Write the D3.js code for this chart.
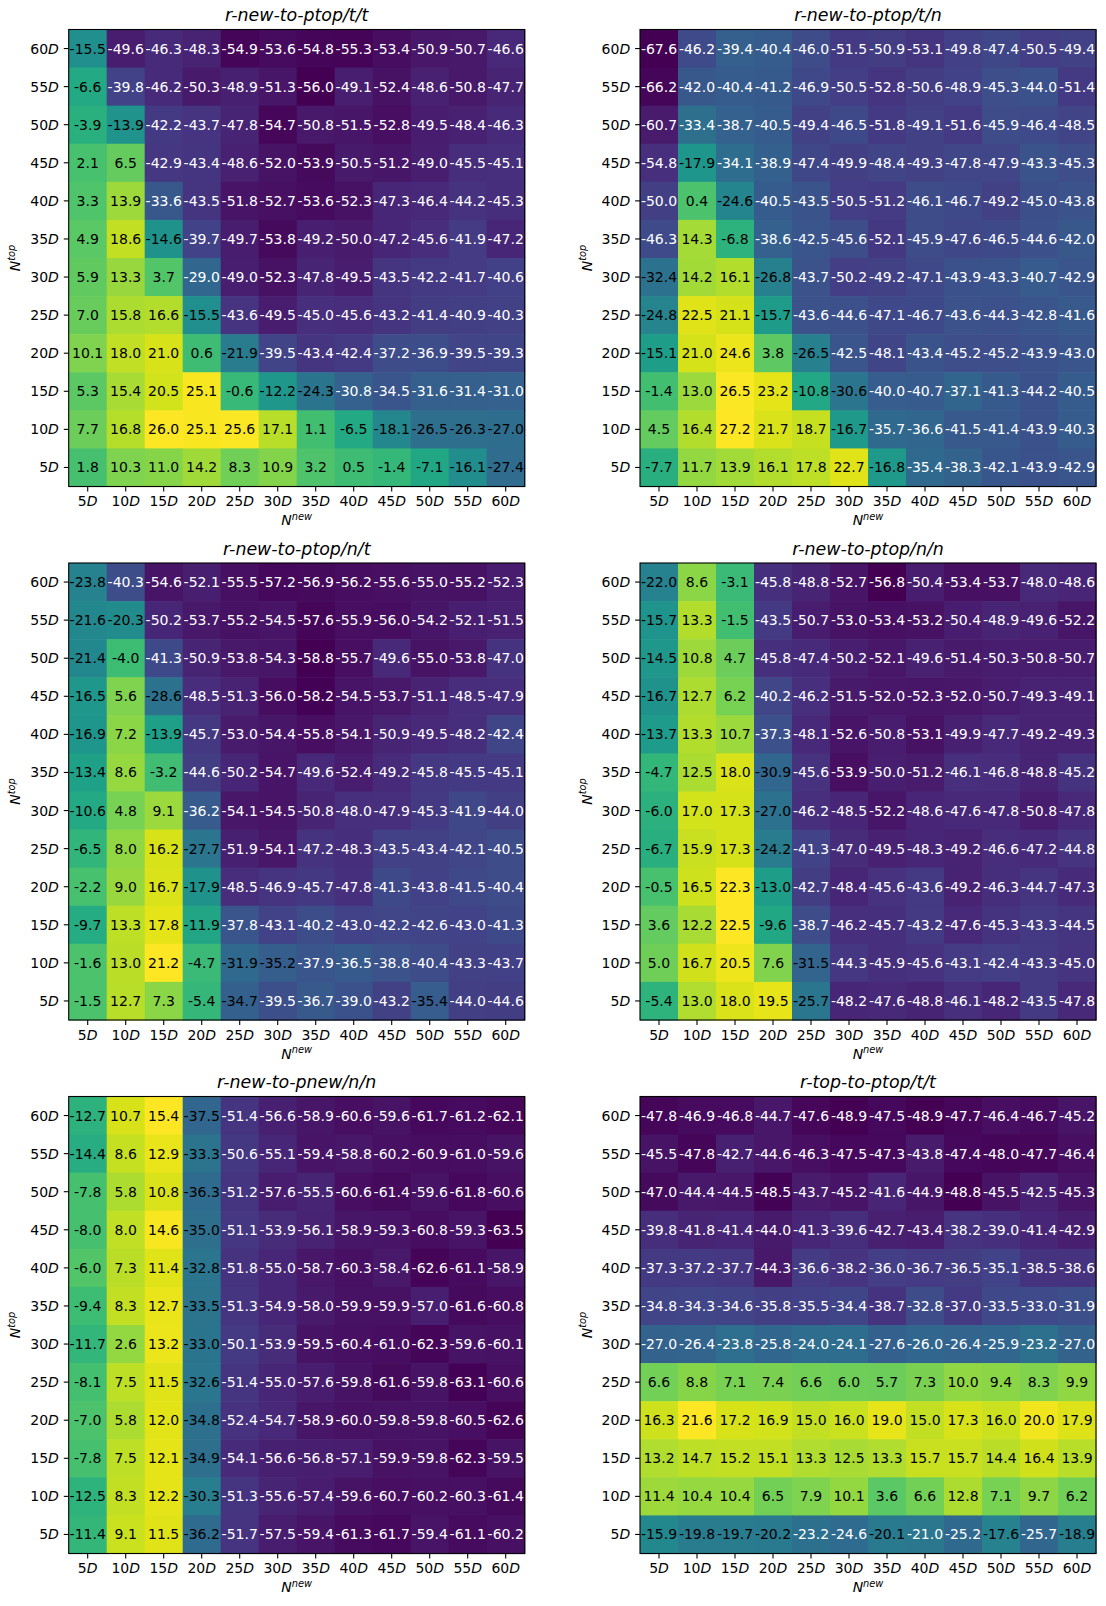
<!DOCTYPE html>
<html>
<head>
<meta charset="utf-8">
<script src="https://cdn.jsdelivr.net/npm/d3@7"></script>
<style>
  html, body { margin: 0; padding: 0; background: #fff; }
  svg { display: block; }
  text { font-family: "DejaVu Sans", sans-serif; }
</style>
</head>
<body>
<svg id="chart" width="1106" height="1606"></svg>
<script>
// ---------- data ----------
const xLabels = ["5D","10D","15D","20D","25D","30D","35D","40D","45D","50D","55D","60D"];
const yLabels = ["60D","55D","50D","45D","40D","35D","30D","25D","20D","15D","10D","5D"]; // top to bottom

const titles = ["r-new-to-ptop/t/t","r-new-to-ptop/t/n","r-new-to-ptop/n/t","r-new-to-ptop/n/n","r-new-to-pnew/n/n","r-top-to-ptop/t/t"];
const xAxisLabel = ["N","new"];
const yAxisLabel = ["N","top"];

const newToPtopTT = [
  [-15.5,-49.6,-46.3,-48.3,-54.9,-53.6,-54.8,-55.3,-53.4,-50.9,-50.7,-46.6],
  [-6.6,-39.8,-46.2,-50.3,-48.9,-51.3,-56.0,-49.1,-52.4,-48.6,-50.8,-47.7],
  [-3.9,-13.9,-42.2,-43.7,-47.8,-54.7,-50.8,-51.5,-52.8,-49.5,-48.4,-46.3],
  [2.1,6.5,-42.9,-43.4,-48.6,-52.0,-53.9,-50.5,-51.2,-49.0,-45.5,-45.1],
  [3.3,13.9,-33.6,-43.5,-51.8,-52.7,-53.6,-52.3,-47.3,-46.4,-44.2,-45.3],
  [4.9,18.6,-14.6,-39.7,-49.7,-53.8,-49.2,-50.0,-47.2,-45.6,-41.9,-47.2],
  [5.9,13.3,3.7,-29.0,-49.0,-52.3,-47.8,-49.5,-43.5,-42.2,-41.7,-40.6],
  [7.0,15.8,16.6,-15.5,-43.6,-49.5,-45.0,-45.6,-43.2,-41.4,-40.9,-40.3],
  [10.1,18.0,21.0,0.6,-21.9,-39.5,-43.4,-42.4,-37.2,-36.9,-39.5,-39.3],
  [5.3,15.4,20.5,25.1,-0.6,-12.2,-24.3,-30.8,-34.5,-31.6,-31.4,-31.0],
  [7.7,16.8,26.0,25.1,25.6,17.1,1.1,-6.5,-18.1,-26.5,-26.3,-27.0],
  [1.8,10.3,11.0,14.2,8.3,10.9,3.2,0.5,-1.4,-7.1,-16.1,-27.4]
];
const newToPtopTN = [
  [-67.6,-46.2,-39.4,-40.4,-46.0,-51.5,-50.9,-53.1,-49.8,-47.4,-50.5,-49.4],
  [-66.2,-42.0,-40.4,-41.2,-46.9,-50.5,-52.8,-50.6,-48.9,-45.3,-44.0,-51.4],
  [-60.7,-33.4,-38.7,-40.5,-49.4,-46.5,-51.8,-49.1,-51.6,-45.9,-46.4,-48.5],
  [-54.8,-17.9,-34.1,-38.9,-47.4,-49.9,-48.4,-49.3,-47.8,-47.9,-43.3,-45.3],
  [-50.0,0.4,-24.6,-40.5,-43.5,-50.5,-51.2,-46.1,-46.7,-49.2,-45.0,-43.8],
  [-46.3,14.3,-6.8,-38.6,-42.5,-45.6,-52.1,-45.9,-47.6,-46.5,-44.6,-42.0],
  [-32.4,14.2,16.1,-26.8,-43.7,-50.2,-49.2,-47.1,-43.9,-43.3,-40.7,-42.9],
  [-24.8,22.5,21.1,-15.7,-43.6,-44.6,-47.1,-46.7,-43.6,-44.3,-42.8,-41.6],
  [-15.1,21.0,24.6,3.8,-26.5,-42.5,-48.1,-43.4,-45.2,-45.2,-43.9,-43.0],
  [-1.4,13.0,26.5,23.2,-10.8,-30.6,-40.0,-40.7,-37.1,-41.3,-44.2,-40.5],
  [4.5,16.4,27.2,21.7,18.7,-16.7,-35.7,-36.6,-41.5,-41.4,-43.9,-40.3],
  [-7.7,11.7,13.9,16.1,17.8,22.7,-16.8,-35.4,-38.3,-42.1,-43.9,-42.9]
];
const newToPtopNT = [
  [-23.8,-40.3,-54.6,-52.1,-55.5,-57.2,-56.9,-56.2,-55.6,-55.0,-55.2,-52.3],
  [-21.6,-20.3,-50.2,-53.7,-55.2,-54.5,-57.6,-55.9,-56.0,-54.2,-52.1,-51.5],
  [-21.4,-4.0,-41.3,-50.9,-53.8,-54.3,-58.8,-55.7,-49.6,-55.0,-53.8,-47.0],
  [-16.5,5.6,-28.6,-48.5,-51.3,-56.0,-58.2,-54.5,-53.7,-51.1,-48.5,-47.9],
  [-16.9,7.2,-13.9,-45.7,-53.0,-54.4,-55.8,-54.1,-50.9,-49.5,-48.2,-42.4],
  [-13.4,8.6,-3.2,-44.6,-50.2,-54.7,-49.6,-52.4,-49.2,-45.8,-45.5,-45.1],
  [-10.6,4.8,9.1,-36.2,-54.1,-54.5,-50.8,-48.0,-47.9,-45.3,-41.9,-44.0],
  [-6.5,8.0,16.2,-27.7,-51.9,-54.1,-47.2,-48.3,-43.5,-43.4,-42.1,-40.5],
  [-2.2,9.0,16.7,-17.9,-48.5,-46.9,-45.7,-47.8,-41.3,-43.8,-41.5,-40.4],
  [-9.7,13.3,17.8,-11.9,-37.8,-43.1,-40.2,-43.0,-42.2,-42.6,-43.0,-41.3],
  [-1.6,13.0,21.2,-4.7,-31.9,-35.2,-37.9,-36.5,-38.8,-40.4,-43.3,-43.7],
  [-1.5,12.7,7.3,-5.4,-34.7,-39.5,-36.7,-39.0,-43.2,-35.4,-44.0,-44.6]
];
const newToPtopNN = [
  [-22.0,8.6,-3.1,-45.8,-48.8,-52.7,-56.8,-50.4,-53.4,-53.7,-48.0,-48.6],
  [-15.7,13.3,-1.5,-43.5,-50.7,-53.0,-53.4,-53.2,-50.4,-48.9,-49.6,-52.2],
  [-14.5,10.8,4.7,-45.8,-47.4,-50.2,-52.1,-49.6,-51.4,-50.3,-50.8,-50.7],
  [-16.7,12.7,6.2,-40.2,-46.2,-51.5,-52.0,-52.3,-52.0,-50.7,-49.3,-49.1],
  [-13.7,13.3,10.7,-37.3,-48.1,-52.6,-50.8,-53.1,-49.9,-47.7,-49.2,-49.3],
  [-4.7,12.5,18.0,-30.9,-45.6,-53.9,-50.0,-51.2,-46.1,-46.8,-48.8,-45.2],
  [-6.0,17.0,17.3,-27.0,-46.2,-48.5,-52.2,-48.6,-47.6,-47.8,-50.8,-47.8],
  [-6.7,15.9,17.3,-24.2,-41.3,-47.0,-49.5,-48.3,-49.2,-46.6,-47.2,-44.8],
  [-0.5,16.5,22.3,-13.0,-42.7,-48.4,-45.6,-43.6,-49.2,-46.3,-44.7,-47.3],
  [3.6,12.2,22.5,-9.6,-38.7,-46.2,-45.7,-43.2,-47.6,-45.3,-43.3,-44.5],
  [5.0,16.7,20.5,7.6,-31.5,-44.3,-45.9,-45.6,-43.1,-42.4,-43.3,-45.0],
  [-5.4,13.0,18.0,19.5,-25.7,-48.2,-47.6,-48.8,-46.1,-48.2,-43.5,-47.8]
];
const newToPnewNN = [
  [-12.7,10.7,15.4,-37.5,-51.4,-56.6,-58.9,-60.6,-59.6,-61.7,-61.2,-62.1],
  [-14.4,8.6,12.9,-33.3,-50.6,-55.1,-59.4,-58.8,-60.2,-60.9,-61.0,-59.6],
  [-7.8,5.8,10.8,-36.3,-51.2,-57.6,-55.5,-60.6,-61.4,-59.6,-61.8,-60.6],
  [-8.0,8.0,14.6,-35.0,-51.1,-53.9,-56.1,-58.9,-59.3,-60.8,-59.3,-63.5],
  [-6.0,7.3,11.4,-32.8,-51.8,-55.0,-58.7,-60.3,-58.4,-62.6,-61.1,-58.9],
  [-9.4,8.3,12.7,-33.5,-51.3,-54.9,-58.0,-59.9,-59.9,-57.0,-61.6,-60.8],
  [-11.7,2.6,13.2,-33.0,-50.1,-53.9,-59.5,-60.4,-61.0,-62.3,-59.6,-60.1],
  [-8.1,7.5,11.5,-32.6,-51.4,-55.0,-57.6,-59.8,-61.6,-59.8,-63.1,-60.6],
  [-7.0,5.8,12.0,-34.8,-52.4,-54.7,-58.9,-60.0,-59.8,-59.8,-60.5,-62.6],
  [-7.8,7.5,12.1,-34.9,-54.1,-56.6,-56.8,-57.1,-59.9,-59.8,-62.3,-59.5],
  [-12.5,8.3,12.2,-30.3,-51.3,-55.6,-57.4,-59.6,-60.7,-60.2,-60.3,-61.4],
  [-11.4,9.1,11.5,-36.2,-51.7,-57.5,-59.4,-61.3,-61.7,-59.4,-61.1,-60.2]
];
const topToPtopTT = [
  [-47.8,-46.9,-46.8,-44.7,-47.6,-48.9,-47.5,-48.9,-47.7,-46.4,-46.7,-45.2],
  [-45.5,-47.8,-42.7,-44.6,-46.3,-47.5,-47.3,-43.8,-47.4,-48.0,-47.7,-46.4],
  [-47.0,-44.4,-44.5,-48.5,-43.7,-45.2,-41.6,-44.9,-48.8,-45.5,-42.5,-45.3],
  [-39.8,-41.8,-41.4,-44.0,-41.3,-39.6,-42.7,-43.4,-38.2,-39.0,-41.4,-42.9],
  [-37.3,-37.2,-37.7,-44.3,-36.6,-38.2,-36.0,-36.7,-36.5,-35.1,-38.5,-38.6],
  [-34.8,-34.3,-34.6,-35.8,-35.5,-34.4,-38.7,-32.8,-37.0,-33.5,-33.0,-31.9],
  [-27.0,-26.4,-23.8,-25.8,-24.0,-24.1,-27.6,-26.0,-26.4,-25.9,-23.2,-27.0],
  [6.6,8.8,7.1,7.4,6.6,6.0,5.7,7.3,10.0,9.4,8.3,9.9],
  [16.3,21.6,17.2,16.9,15.0,16.0,19.0,15.0,17.3,16.0,20.0,17.9],
  [13.2,14.7,15.2,15.1,13.3,12.5,13.3,15.7,15.7,14.4,16.4,13.9],
  [11.4,10.4,10.4,6.5,7.9,10.1,3.6,6.6,12.8,7.1,9.7,6.2],
  [-15.9,-19.8,-19.7,-20.2,-23.2,-24.6,-20.1,-21.0,-25.2,-17.6,-25.7,-18.9]
];

const panels = [
  { title: titles[0], values: newToPtopTT },
  { title: titles[1], values: newToPtopTN },
  { title: titles[2], values: newToPtopNT },
  { title: titles[3], values: newToPtopNN },
  { title: titles[4], values: newToPnewNN },
  { title: titles[5], values: topToPtopTT }
];

// ---------- layout ----------
const colX = [68.7, 640];
const rowY = [29.5, 563, 1096.5];
const W = 456, H = 457;
const FS = 14;

const svg = d3.select("#chart");
svg.append("rect").attr("width", 1106).attr("height", 1606).attr("fill", "#fff");

function italicDTick(sel) {
  sel.each(function(d) {
    const t = d3.select(this);
    t.text(null);
    t.append("tspan").text(d.replace("D", ""));
    t.append("tspan").attr("font-style", "italic").text("D");
  });
}

panels.forEach((p, i) => {
  const x0 = colX[i % 2], y0 = rowY[Math.floor(i / 2)];
  const g = svg.append("g");
  const x = d3.scaleBand().domain(xLabels).range([x0, x0 + W]);
  const y = d3.scaleBand().domain(yLabels).range([y0, y0 + H]);
  const flat = p.values.flat();
  const color = d3.scaleSequential(d3.interpolateViridis).domain(d3.extent(flat));
  const textThreshold = d3.mean(flat) + 0.3;

  const cells = [];
  p.values.forEach((row, r) => row.forEach((v, c) => cells.push({ r, c, v })));

  g.selectAll("rect.cell").data(cells).join("rect")
    .attr("class", "cell")
    .attr("x", d => x(xLabels[d.c]))
    .attr("y", d => y(yLabels[d.r]))
    .attr("width", x.bandwidth() + 0.6)
    .attr("height", y.bandwidth() + 0.6)
    .attr("fill", d => color(d.v));

  g.selectAll("text.val").data(cells).join("text")
    .attr("class", "val")
    .attr("x", d => x(xLabels[d.c]) + x.bandwidth() / 2)
    .attr("y", d => y(yLabels[d.r]) + y.bandwidth() / 2 + 5)
    .attr("text-anchor", "middle")
    .attr("font-size", FS)
    .attr("fill", d => d.v < textThreshold ? "#fff" : "#000")
    .text(d => d.v.toFixed(1));

  // spine
  g.append("rect").attr("x", x0).attr("y", y0).attr("width", W).attr("height", H)
    .attr("fill", "none").attr("stroke", "#000").attr("stroke-width", 1.1);

  // axes
  const xa = g.append("g").attr("transform", `translate(0,${y0 + H})`)
    .call(d3.axisBottom(x).tickSize(4.9).tickPadding(4.9));
  const ya = g.append("g").attr("transform", `translate(${x0},0)`)
    .call(d3.axisLeft(y).tickSize(4.9).tickPadding(4.9));
  [xa, ya].forEach(a => {
    a.select(".domain").remove();
    a.selectAll(".tick line").attr("stroke", "#000").attr("stroke-width", 1.1);
    a.selectAll(".tick text").attr("font-size", FS).attr("fill", "#000")
      .attr("font-family", "DejaVu Sans").call(italicDTick);
  });
  xa.selectAll(".tick text").attr("dy", null).attr("y", 19.6);
  ya.selectAll(".tick text").attr("dy", null).attr("y", 5);

  // title
  g.append("text").attr("x", x0 + W / 2).attr("y", y0 - 8.5)
    .attr("text-anchor", "middle").attr("font-size", 17.4).attr("font-style", "italic")
    .text(p.title);

  // x label
  const xl = g.append("text").attr("x", x0 + W / 2).attr("y", y0 + H + 38.5)
    .attr("text-anchor", "middle").attr("font-size", FS).attr("font-style", "italic");
  xl.append("tspan").text(xAxisLabel[0]);
  xl.append("tspan").attr("font-size", FS * 0.7).attr("dy", -5.5).text(xAxisLabel[1]);

  // y label
  const yl = g.append("text")
    .attr("transform", `translate(${x0 - 48.3},${y0 + H / 2}) rotate(-90)`)
    .attr("text-anchor", "middle").attr("font-size", FS).attr("font-style", "italic");
  yl.append("tspan").text(yAxisLabel[0]);
  yl.append("tspan").attr("font-size", FS * 0.7).attr("dy", -5.5).text(yAxisLabel[1]);
});
</script>
</body>
</html>
